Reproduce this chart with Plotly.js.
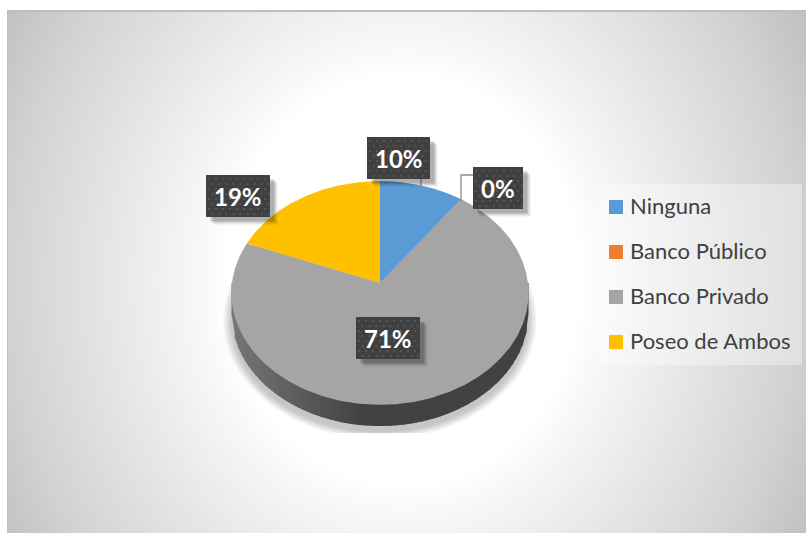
<!DOCTYPE html>
<html>
<head>
<meta charset="utf-8">
<script src="https://cdn.plot.ly/plotly-3.0.1.min.js"></script>
<style>
html,body{margin:0;padding:0;width:806px;height:533px;background:#fff;overflow:hidden}
#frame{position:absolute;left:7px;top:10px;width:799px;height:523px;border-top:2px solid #bfbfbf;border-left:1px solid #c0c0c0;box-sizing:border-box;
background:radial-gradient(ellipse 455px 523px at 395px 268px,#ffffff 0,#ffffff 39%,#f8f8f8 44.6%,#e4e4e4 66.6%,#d2d2d2 86.4%,#c2c2c2 100%)}
#chart{position:absolute;left:0;top:0;width:806px;height:533px}
</style>
</head>
<body>
<div id="frame"></div>
<div id="chart"></div>
<script>
const categories = ["Ninguna", "Banco Público", "Banco Privado", "Poseo de Ambos"];
const values = [10, 0, 71, 19];
const colors = ["#5b9bd5", "#ed7d31", "#a5a5a5", "#ffc000"];

// label boxes in the order of categories: left, top, width, height
const labelBoxes = [[367,137,63,42],[473,167,50,42],[356,317,64,42],[206,175,64,42]];

// tilted pie seen in perspective: an ellipse whose apex sits above its centre
const cx = 380, ey = 293, rx = 148.5, ry = 112, apexY = 283, depth = 21;
const R = 148, Ry = 111, k = 0.089;
const total = values.reduce((a,b)=>a+b,0);
function rim(t){
  const s = 1/(1+k*Math.cos(t));
  return [cx + R*Math.sin(t)*s, apexY - Ry*Math.cos(t)*s];
}
const traces = [];
let acc = 0;
categories.forEach((name,i)=>{
  const a0 = acc/total*2*Math.PI, a1 = (acc+values[i])/total*2*Math.PI;
  acc += values[i];
  const xs=[cx], ys=[apexY], n=Math.max(2,Math.ceil((a1-a0)/0.01));
  for(let j=0;j<=n;j++){const p=rim(a0+(a1-a0)*j/n);xs.push(p[0]);ys.push(p[1]);}
  xs.push(cx);ys.push(apexY);
  traces.push({type:"scatter",mode:"lines",x:xs,y:ys,fill:"toself",fillcolor:colors[i],
    line:{width:0,color:colors[i]},showlegend:false,hoverinfo:"skip",name:name});
});
// leader lines
traces.push({type:"scatter",mode:"lines",x:[421,421],y:[179,188],line:{color:"#8a8a8a",width:1.3},showlegend:false,hoverinfo:"skip"});
traces.push({type:"scatter",mode:"lines",x:[473,461,461],y:[175,175,202],line:{color:"#8a8a8a",width:1.3},showlegend:false,hoverinfo:"skip"});

const shapes = [];
const annotations=[];
// soft shadow under the pie
for(let g=0;g<10;g++){
  let d="";
  for(let j=0;j<=160;j++){
    const t=2*Math.PI*j/160;
    const x=cx+(rx+g*0.95)*Math.sin(t);
    const y=Math.min(ey+depth+6-(ry+g*0.8)*Math.cos(t),433);
    d+=(j?"L":"M")+x.toFixed(1)+" "+y.toFixed(1);
  }
  d+="Z";
  shapes.push({type:"path",layer:"below",path:d,fillcolor:"rgba(0,0,0,0.024)",line:{width:0}});
}
// shaded side wall
const strips=90, sw=2*rx/strips;
function wallColor(x){
  const f=(x-(cx-rx))/(2*rx);
  const c=Math.round(f<0.42 ? 118-(118-68)*(f/0.42) : 66);
  return "rgb("+c+","+c+","+c+")";
}
function wallY(x){
  const u=Math.min(1,Math.abs(x-cx)/rx);
  return ey+depth+ry*Math.sqrt(1-u*u);
}
for(let s=0;s<strips;s++){
  const x0=cx-rx+s*sw, xb=Math.min(x0+sw+1.5,cx+rx);
  shapes.push({type:"path",layer:"below",
    path:"M"+x0+" "+apexY+"L"+xb+" "+apexY+"L"+xb+" "+wallY(xb)+"L"+x0+" "+wallY(x0)+"Z",
    fillcolor:wallColor(x0),line:{width:0}});
}
// data label boxes: shadow, body, dotted texture
labelBoxes.forEach((b,i)=>{
  const [x,y,w,h]=b;
  [[8,0.04],[7,0.05],[6,0.07],[5,0.09],[4,0.1]].forEach(o=>{
    shapes.push({type:"rect",layer:"above",x0:x+o[0],x1:x+w+o[0],y0:y+o[0],y1:y+h+o[0],fillcolor:"rgba(0,0,0,"+o[1]+")",line:{width:0}});
  });
  shapes.push({type:"rect",layer:"above",x0:x,x1:x+w,y0:y,y1:y+h,fillcolor:"#404040",line:{width:0}});
  let d="", r=0;
  for(let yy=y+3;yy<y+h-2;yy+=5,r++){
    for(let xx=x+2+(r%2?3.5:0);xx<x+w-2;xx+=7){
      d+="M"+xx+" "+yy+"L"+(xx+2)+" "+yy+"L"+(xx+2)+" "+(yy+2)+"L"+xx+" "+(yy+2)+"Z";
    }
  }
  shapes.push({type:"path",layer:"above",path:d,fillcolor:"#555555",line:{width:0}});
  annotations.push({x:x+w/2,y:y+h/2,xref:"x",yref:"y",showarrow:false,
    text:Math.round(values[i]/total*100)+"%",
    font:{family:"Lato, sans-serif",size:24,color:"#ffffff",weight:700}});
});
// legend panel, swatches and names
const legendX=616, legendY=207, legendStep=45;
shapes.push({type:"rect",layer:"below",x0:597,x1:802,y0:184,y1:365,fillcolor:"rgba(255,255,255,0.35)",line:{width:0}});
categories.forEach((name,i)=>{
  const y=legendY+i*legendStep;
  traces.push({type:"scatter",mode:"markers",name:name,x:[legendX],y:[y],showlegend:false,hoverinfo:"skip",
    marker:{symbol:"square",size:14,color:colors[i],line:{width:0}}});
  annotations.push({x:legendX+12,y:y-1.5,xref:"x",yref:"y",xanchor:"left",showarrow:false,text:name,
    font:{family:"Lato, sans-serif",size:22,color:"#404040"}});
});

const layout={
  width:806,height:533,margin:{l:0,r:0,t:0,b:0},
  paper_bgcolor:"rgba(0,0,0,0)",plot_bgcolor:"rgba(0,0,0,0)",
  xaxis:{range:[0,806],visible:false,fixedrange:true},
  yaxis:{range:[533,0],visible:false,fixedrange:true},
  shapes:shapes,annotations:annotations,showlegend:false
};
Plotly.newPlot("chart",traces,layout,{displayModeBar:false,staticPlot:true});
</script>
</body>
</html>
